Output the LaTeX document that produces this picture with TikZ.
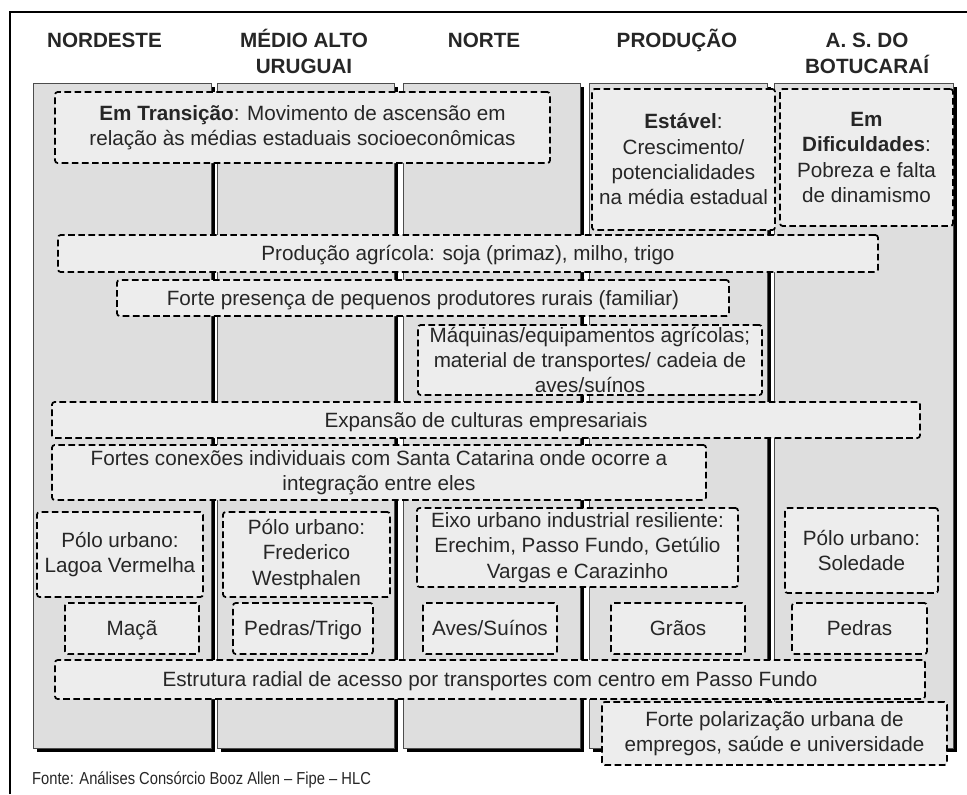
\documentclass[tikz,border=0pt]{standalone}
\usepackage{fontspec}
\setmainfont{Liberation Sans}
\usepackage{xcolor}
\usetikzlibrary{positioning, shadows}

\begin{document}
\begin{tikzpicture}[x=0.75pt, y=-0.75pt,
    colpanel/.style={draw=black!70, line width=0.6pt, fill=black!13, minimum height=498.75pt,
        drop shadow={shadow xshift=3pt, shadow yshift=-3pt, fill=black, opacity=1}},
    head/.style={font=\fontsize{15.5}{16.5}\selectfont\bfseries, text=black!85,
        text height=11pt, text depth=0pt, inner sep=2.75pt},
    dbox/.style={draw, line width=1.3pt, dash pattern=on 5pt off 2.6pt, rounded corners=2pt,
        fill=black!7, align=center, inner sep=0pt, text=black!85,
        font=\fontsize{15.5}{19}\selectfont},
    oneline/.style={dbox, text height=11pt, text depth=0pt}]
    \useasboundingbox (0,0) rectangle (967,794);
    \draw[line width=1.5pt] (10,794) -- (10,12) -- (967,12);

    % columns
    \node (nordeste) [colpanel, minimum width=133.5pt] at (122,415.5) {};
    \node (medio) [colpanel, minimum width=132.75pt] at (305.5,415.5) {};
    \node (norte) [colpanel, minimum width=132.75pt] at (491.5,415.5) {};
    \node (producao) [colpanel, minimum width=133.5pt] at (678,415.5) {};
    \node (botucarai) [colpanel, minimum width=134.25pt] at (863.5,415.5) {};

    \node (hnord) [head] at (104.5,40) {NORDESTE};
    \node (hmedio) [head] at (304,40) {MÉDIO ALTO};
    \node (hmedio2) [head, below=2.5pt of hmedio] {URUGUAI};
    \node (hnorte) [head] at (484,40) {NORTE};
    \node (hprod) [head] at (677,40) {PRODUÇÃO};
    \node (hbotu) [head] at (867,40) {A. S. DO};
    \node (hbotu2) [head, below=2.5pt of hbotu] {BOTUCARAÍ};

    % dashed boxes
    \node (transicao) [dbox, minimum width=371.25pt, minimum height=53.25pt] at (302.5,127.5)
        {\textbf{Em Transição}: Movimento de ascensão em\\relação às médias estaduais socioeconômicas};
    \node (estavel) [dbox, minimum width=137.25pt, minimum height=105.75pt] at (683.5,159.5)
        {\textbf{Estável}:\\Crescimento/\\potencialidades\\na média estadual};
    \node (dificuldades) [dbox, minimum width=129.75pt, minimum height=102.75pt] at (866.5,157.5)
        {\textbf{Em}\\\textbf{Dificuldades}:\\Pobreza e falta\\de dinamismo};
    \node (agricola) [oneline, minimum width=615pt, minimum height=27.75pt] at (468,253.5)
        {Produção agrícola: soja (primaz), milho, trigo};
    \node (familiar) [oneline, minimum width=459pt, minimum height=27pt] at (423,298)
        {Forte presença de pequenos produtores rurais (familiar)};
    \node (maquinas) [dbox, minimum width=258pt, minimum height=52.5pt] at (590,360)
        {Máquinas/equipamentos agrícolas;\\material de transportes/ cadeia de\\aves/suínos};
    \node (expansao) [oneline, minimum width=651pt, minimum height=27pt] at (486,420)
        {Expansão de culturas empresariais};
    \node (conexoes) [dbox, minimum width=490.5pt, minimum height=41.25pt] at (379,472.5)
        {Fortes conexões individuais com Santa Catarina onde ocorre a\\integração entre eles};
    \node (lagoa) [dbox, minimum width=124.5pt, minimum height=63.75pt] at (120,554.5)
        {Pólo urbano:\\Lagoa Vermelha};
    \node (frederico) [dbox, minimum width=125.25pt, minimum height=63.75pt] at (306.5,554.5)
        {Pólo urbano:\\Frederico\\Westphalen};
    \node (eixo) [dbox, minimum width=240.75pt, minimum height=59.25pt] at (577.5,547.5)
        {Eixo urbano industrial resiliente:\\Erechim, Passo Fundo, Getúlio\\Vargas e Carazinho};
    \node (soledade) [dbox, minimum width=114.75pt, minimum height=63.75pt] at (861.5,550.5)
        {Pólo urbano:\\Soledade};
    \node (maca) [oneline, minimum width=100.5pt, minimum height=38.25pt] at (132,628.5) {Maçã};
    \node (pedtrigo) [oneline, minimum width=105pt, minimum height=38.25pt] at (303,628.5) {Pedras/Trigo};
    \node (aves) [oneline, minimum width=100.5pt, minimum height=38.25pt] at (490,628.5) {Aves/Suínos};
    \node (graos) [oneline, minimum width=100.5pt, minimum height=38.25pt] at (678,628.5) {Grãos};
    \node (pedras) [oneline, minimum width=101.25pt, minimum height=38.25pt] at (859.5,628.5) {Pedras};
    \node (radial) [oneline, minimum width=652.5pt, minimum height=29.25pt] at (490,679.5)
        {Estrutura radial de acesso por transportes com centro em Passo Fundo};
    \node (polarizacao) [dbox, minimum width=258.75pt, minimum height=47.25pt] at (774.5,733.5)
        {Forte polarização urbana de\\empregos, saúde e universidade};

    \node (fonte) [anchor=west, inner sep=0pt, xscale=0.85, text=black!85, font=\fontsize{13}{14}\selectfont]
        at (32,780) {Fonte: Análises Consórcio Booz Allen -- Fipe -- HLC};
\end{tikzpicture}
\end{document}
